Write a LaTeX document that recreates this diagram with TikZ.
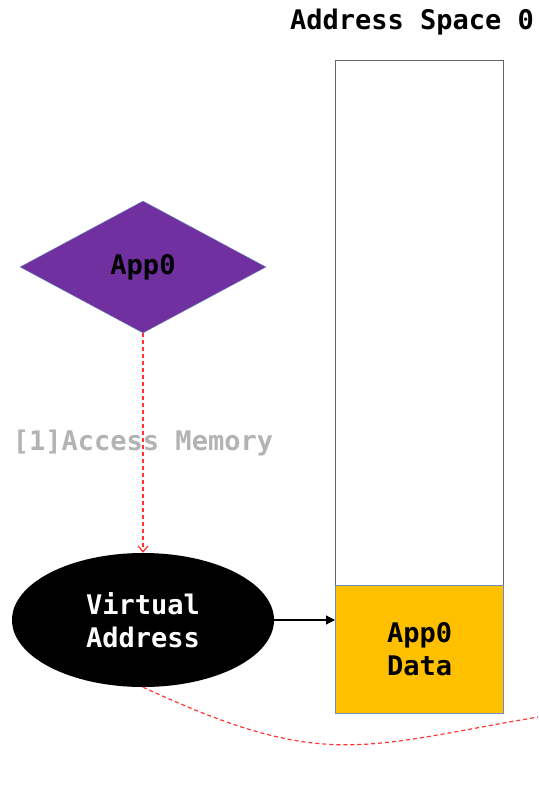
\documentclass[tikz,border=0pt]{standalone}
\usepackage{fontspec}
\setmonofont{DejaVu Sans Mono}
\usetikzlibrary{shapes.geometric,arrows.meta}

\definecolor{lila}{HTML}{7030A0}
\definecolor{gelb}{HTML}{FFC000}
\definecolor{rand}{HTML}{6C8EBF}
\definecolor{rot}{HTML}{FF3333}
\definecolor{grau}{HTML}{B3B3B3}

\tikzset{
	schrift/.style={font=\ttfamily\bfseries\fontsize{27}{33}\selectfont, align=center},
	zugriff/.style={draw=rot, dash pattern=on 4pt off 3pt, line width=1.2pt},
}

\begin{document}
\begin{tikzpicture}[x=1pt,y=-1pt]
		% Rahmen 538 x 789
		\useasboundingbox (0,0) rectangle (538,789);
		
		% Adressraum
		\node[schrift] (titel) at (412,22) {Address Space 0};
		\node[draw=black!60, line width=1.2pt, minimum width=168, minimum height=525, inner sep=0, anchor=north west] (speicher) at (335,60) {};
		\node[schrift, draw=rand, line width=1.2pt, fill=gelb, minimum width=168, minimum height=128, inner sep=0, anchor=north west] (daten) at (335,585) {App0\\Data};
		
		% Prozess und virtuelle Adresse
		\node[schrift, diamond, draw=rand, fill=lila, minimum width=246, minimum height=132, aspect=1.86, inner sep=0] (app) at (143,267) {App0};
		\node[schrift, ellipse, fill=black, text=white, minimum width=262, minimum height=134, inner sep=0] (va) at (143,620) {Virtual\\Address};
		
		% Pfeile
		\draw[zugriff, -{Straight Barb[length=6pt,width=10pt]}] (app.south) -- (va.north)
		node[midway, schrift, text=grau] (label) {[1]Access Memory};
		\draw[line width=1.2pt, -{Triangle[length=9pt,width=9pt]}] (va.east) -- (va.east -| daten.west);
		\coordinate (weiter) at (538,717);
		\draw[zugriff] (va.south) .. controls (324,771) and (361,747) .. (weiter);
		
	\end{tikzpicture}
\end{document}
